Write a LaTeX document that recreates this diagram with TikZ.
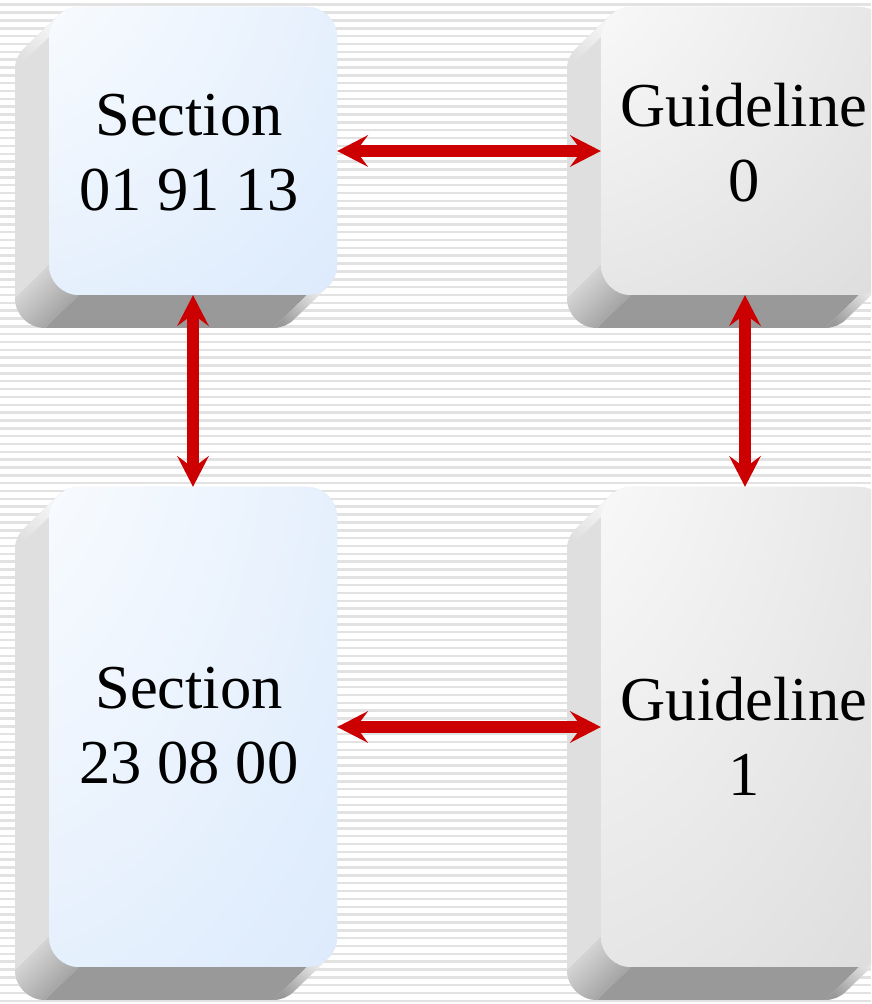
\documentclass[tikz,border=0pt]{standalone}
\usepackage{fontspec}
\setmainfont{Liberation Serif}
\usetikzlibrary{arrows.meta,calc}
\definecolor{capblue}{HTML}{DBEAFC}
\definecolor{capgrey}{HTML}{DCDCDC}
\definecolor{sidelight}{HTML}{DFDFDF}
\definecolor{sidedark}{HTML}{999999}
\definecolor{stripe}{HTML}{E2E2E2}
\definecolor{linkred}{HTML}{CC0000}
\pgfdeclareradialshading{bluecap}{\pgfpoint{-50bp}{50bp}}{color(0bp)=(white); color(12bp)=(white); color(80bp)=(capblue); color(200bp)=(capblue)}
\pgfdeclareradialshading{greycap}{\pgfpoint{-50bp}{50bp}}{color(0bp)=(white); color(12bp)=(white); color(80bp)=(capgrey); color(200bp)=(capgrey)}
\begin{document}
\begin{tikzpicture}
[
    x=1pt, y=1pt,
    face/.style={shade, shading=#1, minimum width=288pt, rounded corners=30pt, inner sep=0pt},
    caption/.style={align=center, font=\fontsize{62.5}{75}\selectfont},
    link/.style={draw=linkred, line width=11.5pt,
        {Stealth[length=31pt,width=32pt,inset=12pt,line width=0pt]}-{Stealth[length=31pt,width=32pt,inset=12pt,line width=0pt]}},
]
\useasboundingbox (0,0) rectangle (871,1004);
\clip (0,0) rectangle (871,1004);
\fill[white] (0,0) rectangle (871,1004);
\foreach \k in {0,...,127}
    \fill[stripe] (0,{1000.5-\k*7.84375}) rectangle ++(871,-2.5);
% keys
\foreach \n/\cx/\cy/\h/\sh in {sec1/193/853/288/bluecap, gl0/745/853/288/greycap,
    sec2/193/277/480/bluecap, gl1/745/277/480/greycap}{
    \pgfmathsetmacro\xl{\cx-144}
    \pgfmathsetmacro\xr{\cx+144}
    \pgfmathsetmacro\yt{\cy+\h/2}
    \pgfmathsetmacro\yb{\cy-\h/2}
    \fill[sidelight] ($(\xl+30,\yt-30)+(134.15:30)$) arc[start angle=134.15,end angle=90,radius=30]
        -- (\xr-30,\yt) arc[start angle=90,end angle=0,radius=30]
        -- (\xr,\yb+30) arc[start angle=0,end angle=-45.85,radius=30]
        -- ++(-34,-33) arc[start angle=-45.85,end angle=-90,radius=30]
        -- (\xl-4,\yb-33) arc[start angle=270,end angle=180,radius=30]
        -- (\xl-34,\yt-63) arc[start angle=180,end angle=134.15,radius=30] -- cycle;
    \fill[sidedark] (\xl+30,\yb) -- (\xr-30,\yb) -- ++(-34,-33) -- (\xl-4,\yb-33) -- cycle;
    \shade[top color=sidelight, bottom color=sidedark, shading angle=45]
        (\xl,\yb+30) arc[start angle=180,end angle=270,radius=30]
        -- ++(-34,-33) arc[start angle=270,end angle=180,radius=30] -- cycle;
    \shade[top color=white!40!sidelight, bottom color=sidedark, shading angle=-45]
        (\xr-30,\yb) arc[start angle=270,end angle=314.15,radius=30]
        -- ++(-34,-33) arc[start angle=314.15,end angle=270,radius=30] -- cycle;
    \shade[top color=white!70!sidelight, bottom color=sidelight, shading angle=-45]
        (\xl,\yt-30) arc[start angle=180,end angle=134.15,radius=30]
        -- ++(-34,-33) arc[start angle=134.15,end angle=180,radius=30] -- cycle;
    \node[face=\sh, minimum height=\h pt] (\n) at (\cx,\cy) {};
}
% labels
\node[caption] (sec1text) at (189,851.5) {Section\\01 91 13};
\node[caption] (gl0text) at (744,861.5) {Guideline\\0};
\node[caption] (sec2text) at (189,278.5) {Section\\23 08 00};
\node[caption] (gl1text) at (744,268) {Guideline\\1};
% links
\draw[link] (sec1.east) -- (gl0.west);
\draw[link] (sec2.east) -- (gl1.west);
\draw[link] (sec1.south) -- (sec2.north);
\draw[link] (gl0.south) -- (gl1.north);
\end{tikzpicture}
\end{document}
